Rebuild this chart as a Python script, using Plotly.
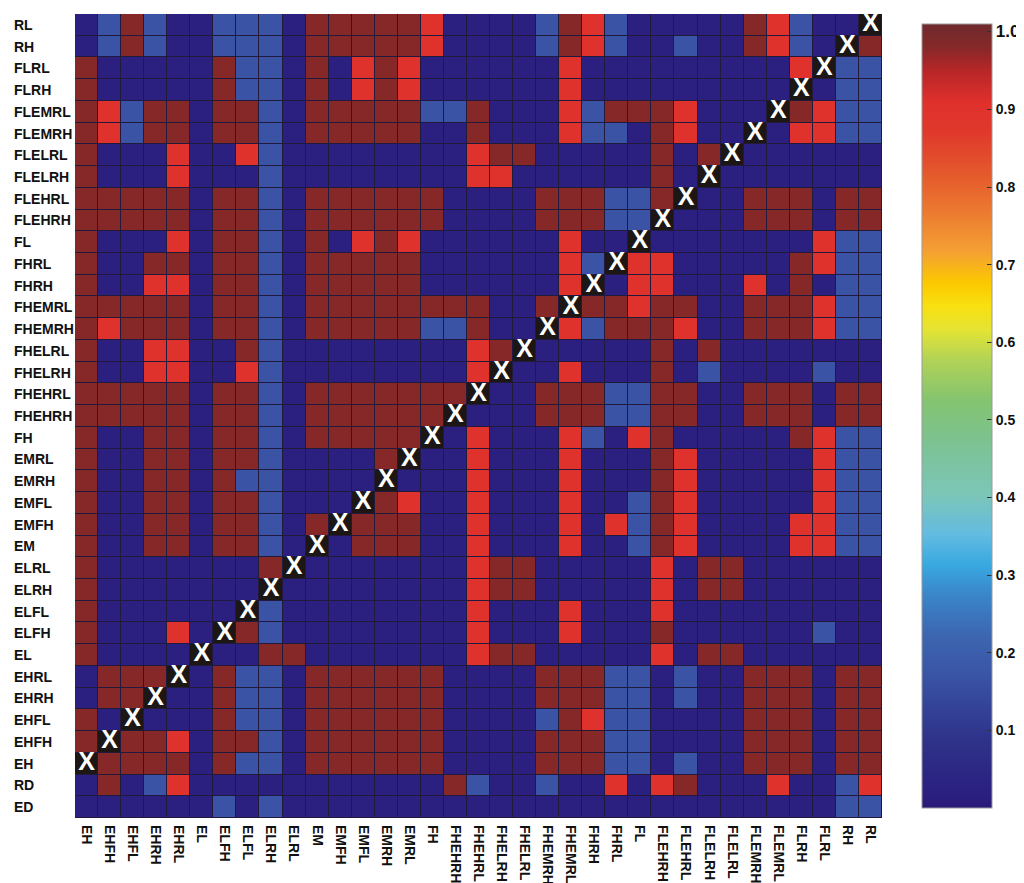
"""
Pairwise significance heatmap with a jet-like colour bar.
"""

import plotly.graph_objects as go

# column categories (left to right)
cols = [
    "EH", "EHFH", "EHFL", "EHRH", "EHRL", "EL", "ELFH", "ELFL", "ELRH", "ELRL",
    "EM", "EMFH", "EMFL", "EMRH", "EMRL", "FH", "FHEHRH", "FHEHRL", "FHELRH",
    "FHELRL", "FHEMRH", "FHEMRL", "FHRH", "FHRL", "FL", "FLEHRH", "FLEHRL",
    "FLELRH", "FLELRL", "FLEMRH", "FLEMRL", "FLRH", "FLRL", "RH", "RL",
]

# row categories (top to bottom)
rows = [
    "RL", "RH", "FLRL", "FLRH", "FLEMRL", "FLEMRH", "FLELRL", "FLELRH",
    "FLEHRL", "FLEHRH", "FL", "FHRL", "FHRH", "FHEMRL", "FHEMRH", "FHELRL",
    "FHELRH", "FHEHRL", "FHEHRH", "FH", "EMRL", "EMRH", "EMFL", "EMFH", "EM",
    "ELRL", "ELRH", "ELFL", "ELFH", "EL", "EHRL", "EHRH", "EHFL", "EHFH", "EH",
    "RD", "ED",
]

# colour levels (D dark blue, B mid blue, r red, R dark red, X = self)
levels = {"D": 0.02, "B": 0.17, "r": 0.90, "R": 0.98, "X": None}

cells = [
    "DBRBDDBBBDRR" "RRRrDDDDBRrB" "DDDDDRrBDDX",
    "DBRBDDBBBDRR" "RRRrDDDDBRrB" "DDBDDRrBDXR",
    "RDDDDDRBBDRD" "rRrDDDDDDrDD" "DDDDDDDrXBB",
    "RDDDDDRBBDRD" "rRrDDDDDDrDD" "DDDDDDDXDBB",
    "RrBRRDRRBDRR" "RRRBBRDDDrBR" "RRrDDDXRrBB",
    "RrBRRDRRBDRR" "RRRDDRDDDrBB" "DRrDDXDrrBB",
    "RDDDrDDrBDDD" "DDDDDrRRDDDD" "DRDRXDDDDDD",
    "RDDDrDDDBDDD" "DDDDDrrDDDDD" "DRDXDDDDDDD",
    "RRRRRDRRBDRR" "RRRRDDDDRRRB" "BRXDDRRRDRR",
    "RRRRRDRRBDRR" "RRRRDDDDRRRB" "BXDDDRRRDRR",
    "RDDDrDRRBDRD" "rRrDDDDDDrDD" "XDDDDDDDrBB",
    "RDDRRDRRBDRR" "RRRDDDDDDrBX" "rrDDDDDRrBB",
    "RDDrrDRRBDRR" "RRRDDDDDDrXD" "rrDDDrDRDBB",
    "RRRRRDRRBDRR" "RRRRRRDDRXRR" "rRRDDRRRrBB",
    "RrRRRDRRBDRR" "RRRBBRDDXrBR" "RRrDDRRRrBB",
    "RDDrrDDRBDDD" "DDDDDrRXDDDD" "DRDRDDDDDDD",
    "RDDrrDDrBDDD" "DDDDDrXDDrDD" "DRDBDDDDBDD",
    "RRRRRDRRBDRR" "RRRRRXDDRRRB" "BRRDDRRRDRR",
    "RRRRRDRRBDRR" "RRRRXDDDRRRB" "BRRDDRRRDRR",
    "RDDRRDRRBDRR" "RRRXDrDDDrBD" "rRDDDDDRrBB",
    "RDDRRDRRBDDD" "DRXDDrDDDrDD" "DRrDDDDDrBB",
    "RDDRRDRBBDDD" "DXDDDrDDDrDD" "DRrDDDDDrBB",
    "RDDRRDRRBDDD" "XRrDDrDDDrDD" "BRrDDDDDrBB",
    "RDDRRDRRBDRX" "RRRDDrDDDrDr" "BRrDDDDrrBB",
    "RDDRRDRRBDXD" "RRRDDrDDDrDD" "BRrDDDDrrBB",
    "RDDDDDDDRXDD" "DDDDDrRRDDDD" "DrDRRDDDDDD",
    "RDDDDDDDXDDD" "DDDDDrRRDDDD" "DrDRRDDDDDD",
    "RDDDDDDXBDDD" "DDDDDrDDDrDD" "DrDDDDDDDDD",
    "RDDDrDXRBDDD" "DDDDDrDDDrDD" "DRDDDDDDBDD",
    "RDDDDXDDRRDD" "DDDDDrRRDDDD" "DrDRRDDDDDD",
    "DRRRXDRBBDRR" "RRRRDDDDRRRB" "BDBDDRRRDRR",
    "DRRXDDRBBDRR" "RRRRDDDDRRRB" "BDBDDRRRDRR",
    "RDXDDDRBBDRR" "RRRRDDDDBRrB" "BDDDDRRRDRR",
    "RXRRrDRRBDRR" "RRRRDDDDRRRB" "BDDDDRRRDRR",
    "XRRRRDRBBDRR" "RRRRDDDDRRRB" "BDBDDRRRDRR",
    "DRDBrDDDDDDD" "DDDDRBDDBDDr" "DrRDDDrDDBr",
    "DDDDDDBDBDDD" "DDDDDDDDDDDD" "DDDDDDDDDBB",
]

cbar_ticks = [0.1, 0.2, 0.3, 0.4, 0.5, 0.6, 0.7, 0.8, 0.9, 1.0]

jet = [
    [0.00, "#2b1a78"], [0.02, "#2b2080"], [0.08, "#2e3088"], [0.12, "#323f94"],
    [0.17, "#3a54a6"], [0.22, "#3c66b0"], [0.27, "#3a84c8"], [0.31, "#38a8e0"],
    [0.35, "#64bce0"], [0.40, "#7cc6b8"], [0.47, "#7cc290"], [0.52, "#84c470"],
    [0.57, "#b0d258"], [0.61, "#e4e434"], [0.64, "#f8e010"], [0.67, "#fcc800"],
    [0.71, "#f4a034"], [0.76, "#ec7a30"], [0.81, "#e4582c"], [0.86, "#e03a2c"],
    [0.90, "#e0302c"], [0.94, "#b82628"], [0.97, "#862828"], [1.00, "#6e2a2e"],
]

z = [[levels[c] for c in row] for row in cells]
z_self = [[1 if r == c else None for c in cols] for r in rows]
self_names = [c for c in cols if c in rows]

label_font = dict(family="Liberation Sans", size=14, color="#111111", weight="bold")

fig = go.Figure()

fig.add_trace(go.Heatmap(
    z=z, x=cols, y=rows, zmin=0, zmax=1.01, colorscale=jet,
    xgap=1, ygap=1, hoverongaps=False,
    colorbar=dict(
        x=1.05, xanchor="left", xpad=0, y=0.5, len=1.0, thickness=70,
        outlinecolor="#9a9a9a", outlinewidth=1,
        tickvals=cbar_ticks,
        ticktext=["%.1f" % v if v < 1 else "<span style='font-size:17px'>1.0</span>" for v in cbar_ticks],
        ticks="inside", ticklen=5, tickcolor="#333333",
        tickfont=label_font,
    ),
))

fig.add_trace(go.Heatmap(
    z=z_self, x=cols, y=rows, zmin=0, zmax=1,
    colorscale=[[0, "#1c1614"], [1, "#1c1614"]], showscale=False,
    xgap=1, ygap=1, hoverinfo="skip",
))

fig.add_trace(go.Scatter(
    x=self_names, y=self_names, mode="text", text=["X"] * len(self_names),
    textfont=dict(family="Liberation Sans", size=25, color="white", weight="bold"),
    hoverinfo="skip", showlegend=False,
))

for name in rows:
    fig.add_annotation(
        x=-0.078, xref="paper", xanchor="left", y=name, yref="y",
        text=name, showarrow=False, font=label_font,
    )

fig.update_xaxes(
    type="category", categoryorder="array", categoryarray=cols,
    range=[-0.5, len(cols) - 0.5],
    tickangle=90, tickfont=label_font, ticks="", ticklabelstandoff=6,
    showgrid=False, zeroline=False, showline=False,
)
fig.update_yaxes(
    type="category", categoryorder="array", categoryarray=rows,
    range=[len(rows) - 0.5, -0.5], showticklabels=False, ticks="",
    showgrid=False, zeroline=False, showline=False,
)

fig.update_layout(
    width=1024, height=883,
    margin=dict(l=67, r=148, t=6, b=69),
    paper_bgcolor="white", plot_bgcolor="#221a3c",
    showlegend=False,
)

fig.write_html("out.html")
